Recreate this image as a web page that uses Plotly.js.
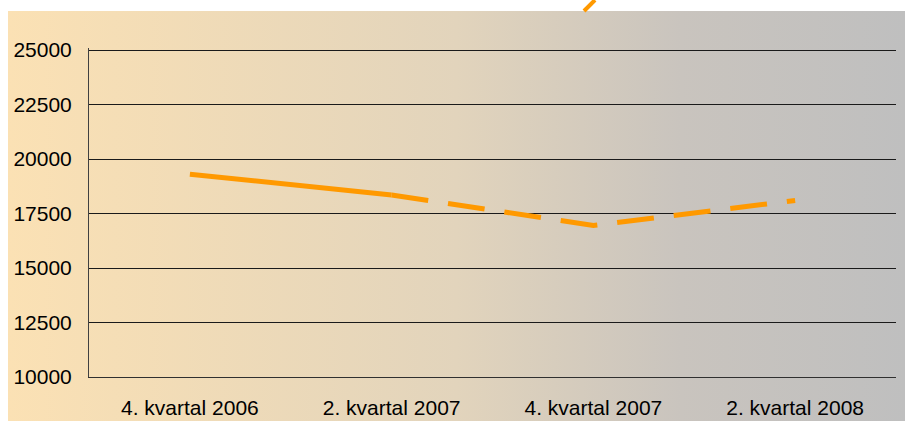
<!DOCTYPE html>
<html>
<head>
<meta charset="utf-8">
<script src="https://cdn.plot.ly/plotly-3.0.1.min.js"></script>
<style>
  html, body { margin: 0; padding: 0; background: #ffffff; }
  #wrap { position: relative; width: 905px; height: 421px; overflow: hidden; }
  #bg { position: absolute; left: 8px; top: 11px; width: 897px; height: 410px;
        background: linear-gradient(to right, #FBE1B4 0%, #E2D4BC 50%, #C9C4BE 75%, #BFBFBF 100%); }
  #chart { position: absolute; left: 0; top: 0; width: 905px; height: 421px; }
</style>
</head>
<body>
<div id="wrap">
  <div id="bg"></div>
  <div id="chart"></div>
</div>
<script>
// Data
const categories = ['4. kvartal 2006', '2. kvartal 2007', '4. kvartal 2007', '2. kvartal 2008'];
const values = [19300, 18350, 16950, 18100];
const yTicks = [10000, 12500, 15000, 17500, 20000, 22500, 25000];

const orange = '#FF9900';

// solid segment: first two points; dashed segment: from second point on
const solidX = categories.slice(0, 2);
const solidY = values.slice(0, 2);
const dashX = categories.slice(1);
const dashY = values.slice(1);

const traces = [
  { x: solidX, y: solidY, type: 'scatter', mode: 'lines',
    line: { color: orange, width: 5, dash: 'solid' }, hoverinfo: 'skip', showlegend: false },
  { x: dashX, y: dashY, type: 'scatter', mode: 'lines',
    line: { color: orange, width: 5, dash: '37px,20px' }, hoverinfo: 'skip', showlegend: false }
];

const layout = {
  width: 905, height: 421,
  margin: { l: 89, r: 9, t: 48, b: 44, pad: 0 },
  paper_bgcolor: 'rgba(0,0,0,0)',
  plot_bgcolor: 'rgba(0,0,0,0)',
  font: { family: '"Liberation Sans", Arial, sans-serif', size: 21, color: '#000000' },
  showlegend: false,
  xaxis: {
    type: 'category',
    categoryorder: 'array', categoryarray: categories,
    range: [-0.5, 3.5],
    showgrid: false, zeroline: false,
    showline: true, linecolor: '#303030', linewidth: 1,
    ticks: '', ticklabelstandoff: 12,
    tickfont: { size: 21, color: '#000000' },
    fixedrange: true
  },
  yaxis: {
    range: [10000, 25092],
    tickmode: 'array', tickvals: yTicks, ticktext: yTicks.map(String),
    showgrid: true, gridcolor: '#1a1a1a', gridwidth: 1,
    zeroline: false,
    showline: true, linecolor: '#404040', linewidth: 1,
    ticks: '', ticklabelstandoff: 12,
    tickfont: { size: 21, color: '#000000' },
    fixedrange: true
  },
  shapes: [
    { type: 'line', xref: 'paper', yref: 'paper', layer: 'below',
      x0: 0.6134, y0: 1.1125, x1: 0.627, y1: 1.146,
      line: { color: orange, width: 4 } }
  ]
};

Plotly.newPlot('chart', traces, layout, { displayModeBar: false, staticPlot: true });
</script>
</body>
</html>
